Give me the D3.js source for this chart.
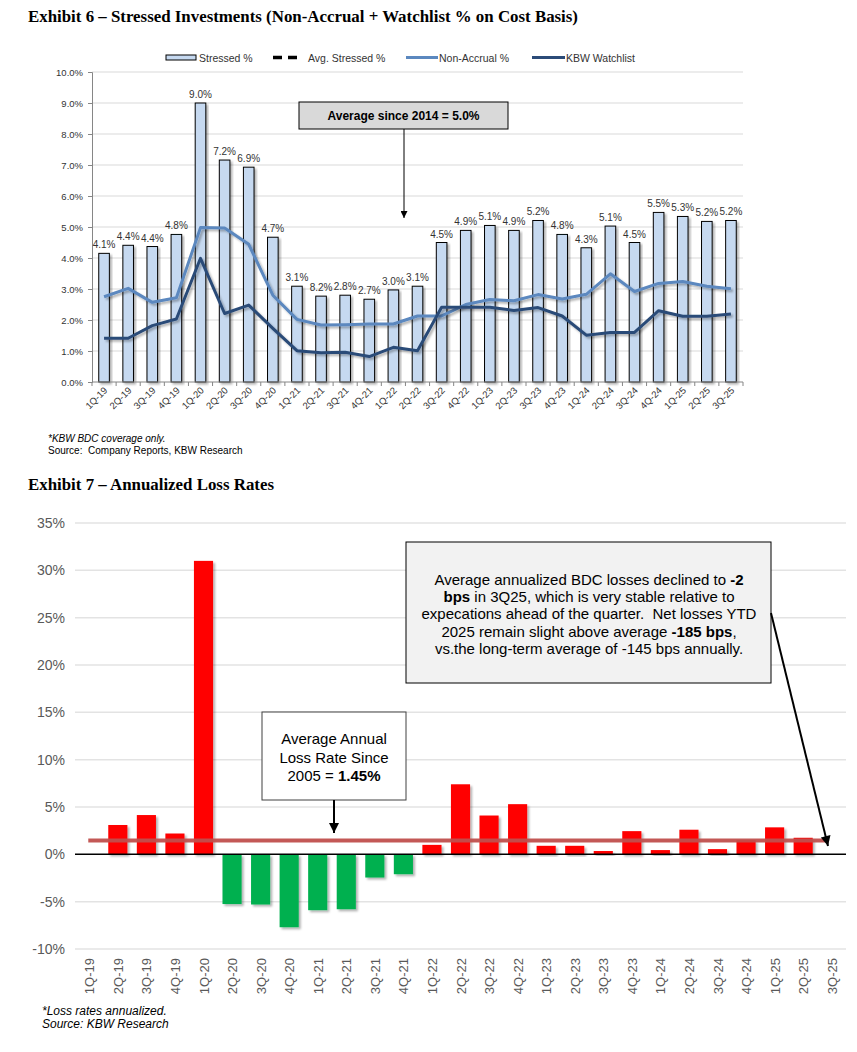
<!DOCTYPE html>
<html><head><meta charset="utf-8">
<script src="https://cdn.jsdelivr.net/npm/d3@7"></script>
<style>
body{margin:0;background:#fff;}
svg{display:block;font-family:"Liberation Sans",Arial,sans-serif;}
</style></head>
<body>
<svg id="c" width="857" height="1052"></svg>
<script>
// ---------- DATA: Exhibit 6 ----------
const quarters = ["1Q-19","2Q-19","3Q-19","4Q-19","1Q-20","2Q-20","3Q-20","4Q-20","1Q-21","2Q-21","3Q-21","4Q-21","1Q-22","2Q-22","3Q-22","4Q-22","1Q-23","2Q-23","3Q-23","4Q-23","1Q-24","2Q-24","3Q-24","4Q-24","1Q-25","2Q-25","3Q-25"];
const stressed = [4.15,4.41,4.37,4.76,9.0,7.16,6.93,4.67,3.09,2.77,2.80,2.67,2.97,3.09,4.50,4.89,5.05,4.89,5.21,4.76,4.33,5.03,4.50,5.47,5.34,5.18,5.21];
const stressedLabels = ["4.1%","4.4%","4.4%","4.8%","9.0%","7.2%","6.9%","4.7%","3.1%","8.2%","2.8%","2.7%","3.0%","3.1%","4.5%","4.9%","5.1%","4.9%","5.2%","4.8%","4.3%","5.1%","4.5%","5.5%","5.3%","5.2%","5.2%"];
const nonAccrual = [2.75,3.02,2.57,2.72,4.98,4.97,4.44,2.80,2.02,1.84,1.85,1.87,1.87,2.13,2.13,2.50,2.66,2.62,2.82,2.68,2.83,3.49,2.92,3.18,3.24,3.09,3.01];
const watchlist = [1.41,1.41,1.82,2.03,3.99,2.21,2.48,1.73,1.01,0.94,0.96,0.82,1.12,1.01,2.41,2.41,2.41,2.31,2.40,2.13,1.51,1.60,1.60,2.30,2.12,2.12,2.19];
const avgStressed = 5.0;
const topTicks = [0,1,2,3,4,5,6,7,8,9,10];

// ---------- DATA: Exhibit 7 ----------
const lossQuarters = quarters;
const lossRates = [0,3.1,4.15,2.2,31.0,-5.25,-5.3,-7.7,-5.9,-5.8,-2.45,-2.1,1.0,7.4,4.1,5.3,0.9,0.9,0.35,2.45,0.45,2.6,0.55,1.5,2.85,1.75,0];
const avgLoss = 1.45;
const lossTicks = [-10,-5,0,5,10,15,20,25,30,35];

const svg = d3.select("#c");
const defs = svg.append("defs");
const sh = defs.append("filter").attr("id","sh").attr("x","-30%").attr("y","-30%").attr("width","160%").attr("height","160%");
sh.append("feDropShadow").attr("dx",2).attr("dy",2).attr("stdDeviation",1.2).attr("flood-color","#000").attr("flood-opacity",0.3);
function marker(id,w,h){
  defs.append("marker").attr("id",id).attr("viewBox","0 0 10 10").attr("refX",10).attr("refY",5)
    .attr("markerWidth",w).attr("markerHeight",h).attr("markerUnits","userSpaceOnUse").attr("orient","auto")
    .append("path").attr("d","M0,0L10,5L0,10Z").attr("fill","#000");
}
marker("ar1",8,7);
marker("ar2",11,10);

// ================= EXHIBIT 6 =================
svg.append("text").attr("x",28).attr("y",22)
  .attr("font-family","'Liberation Serif','Times New Roman',serif").attr("font-weight","bold").attr("font-size",17)
  .attr("textLength",550).attr("lengthAdjust","spacingAndGlyphs")
  .text("Exhibit 6 \u2013 Stressed Investments (Non-Accrual + Watchlist % on Cost Basis)");

const x1 = d3.scaleBand().domain(quarters).range([92,743]).paddingInner(0.56).paddingOuter(0.28);
const y1 = d3.scaleLinear().domain([0,10]).range([382,72]);
const g1 = svg.append("g");

// gridlines
g1.append("g").selectAll("line").data(topTicks.filter(d=>d>0)).join("line")
  .attr("x1",92).attr("x2",743).attr("y1",d=>y1(d)).attr("y2",d=>y1(d))
  .attr("stroke","#d9d9d9").attr("stroke-width",1);

// y axis
const ya1 = g1.append("g").attr("transform","translate(92,0)")
  .call(d3.axisLeft(y1).tickValues(topTicks).tickFormat(d=>d.toFixed(1)+"%").tickSize(4).tickPadding(5));
ya1.select(".domain").attr("stroke","#868686");
ya1.selectAll(".tick line").attr("stroke","#868686");
ya1.selectAll("text").attr("font-size",9.5).attr("fill","#333").attr("font-family","'Liberation Sans',Arial,sans-serif");

// bars
g1.append("g").selectAll("rect").data(stressed).join("rect")
  .attr("x",(d,i)=>x1(quarters[i])).attr("width",x1.bandwidth())
  .attr("y",d=>y1(d)).attr("height",d=>y1(0)-y1(d))
  .attr("fill","#c6d9f0").attr("stroke","#000").attr("stroke-width",1).attr("filter","url(#sh)");

// x axis
const xa1 = g1.append("g").attr("transform","translate(0,382)");
xa1.append("line").attr("x1",92).attr("x2",743).attr("stroke","#868686");
const step1 = x1.step();
xa1.selectAll("line.t").data(quarters.concat(["_end"])).join("line").attr("class","t")
  .attr("x1",(d,i)=>92+i*step1).attr("x2",(d,i)=>92+i*step1).attr("y1",0).attr("y2",4).attr("stroke","#868686");
xa1.selectAll("text").data(quarters).join("text")
  .attr("transform",d=>`translate(${x1(d)+x1.bandwidth()/2+4},${9}) rotate(-45)`)
  .attr("text-anchor","end").attr("font-size",9.5).attr("fill","#333").text(d=>d);

// lines
const cx1 = d=>x1(d)+x1.bandwidth()/2;
const line1 = d3.line().x((d,i)=>cx1(quarters[i])).y(d=>y1(d));
g1.append("path").datum(nonAccrual).attr("d",line1).attr("fill","none").attr("stroke","#5b88bf").attr("stroke-width",3).attr("stroke-linejoin","round").attr("filter","url(#sh)");
g1.append("path").datum(watchlist).attr("d",line1).attr("fill","none").attr("stroke","#2b4b78").attr("stroke-width",3).attr("stroke-linejoin","round").attr("filter","url(#sh)");

// data labels
g1.append("g").selectAll("text").data(stressed).join("text")
  .attr("x",(d,i)=>cx1(quarters[i])).attr("y",d=>y1(d)-5)
  .attr("text-anchor","middle").attr("font-size",10).attr("fill","#333")
  .text((d,i)=>stressedLabels[i]);

// avg dashed line
g1.append("line").attr("x1",cx1(quarters[0])).attr("x2",cx1(quarters[quarters.length-1])+4)
  .attr("y1",y1(avgStressed)).attr("y2",y1(avgStressed))
  .attr("stroke","#000").attr("stroke-width",4).attr("stroke-dasharray","11,7").attr("filter","url(#sh)");

// annotation box
g1.append("rect").attr("x",299).attr("y",102).attr("width",209).attr("height",27)
  .attr("fill","#d9d9d9").attr("stroke","#000").attr("stroke-width",1);
g1.append("text").attr("x",403.5).attr("y",120).attr("text-anchor","middle")
  .attr("font-size",12).attr("font-weight","bold").attr("fill","#000").text("Average since 2014 = 5.0%");
g1.append("line").attr("x1",404).attr("x2",404).attr("y1",129).attr("y2",218)
  .attr("stroke","#000").attr("stroke-width",1).attr("marker-end","url(#ar1)");

// legend
const lg = g1.append("g").attr("font-size",10.5).attr("fill","#333");
lg.append("rect").attr("x",166).attr("y",55).attr("width",30).attr("height",5).attr("fill","#c6d9f0").attr("stroke","#000").attr("stroke-width",1);
lg.append("text").attr("x",199).attr("y",61.5).text("Stressed %");
lg.append("line").attr("x1",273).attr("x2",302).attr("y1",57.5).attr("y2",57.5).attr("stroke","#000").attr("stroke-width",3.5).attr("stroke-dasharray","9,6");
lg.append("text").attr("x",308).attr("y",61.5).text("Avg. Stressed %");
lg.append("line").attr("x1",406).attr("x2",438).attr("y1",57.5).attr("y2",57.5).attr("stroke","#5b88bf").attr("stroke-width",3);
lg.append("text").attr("x",439).attr("y",61.5).text("Non-Accrual %");
lg.append("line").attr("x1",532).attr("x2",565).attr("y1",57.5).attr("y2",57.5).attr("stroke","#2b4b78").attr("stroke-width",3);
lg.append("text").attr("x",566).attr("y",61.5).text("KBW Watchlist");

// footnotes
svg.append("text").attr("x",48).attr("y",442).attr("font-size",10).attr("font-style","italic")
  .attr("font-family","'Liberation Sans Narrow','Arial Narrow',sans-serif").attr("fill","#000").text("*KBW BDC coverage only.");
svg.append("text").attr("x",48).attr("y",454).attr("font-size",10)
  .attr("font-family","'Liberation Sans Narrow','Arial Narrow',sans-serif").attr("fill","#000").attr("xml:space","preserve").text("Source:  Company Reports, KBW Research");

// ================= EXHIBIT 7 =================
svg.append("text").attr("x",28).attr("y",490)
  .attr("font-family","'Liberation Serif','Times New Roman',serif").attr("font-weight","bold").attr("font-size",17)
  .attr("textLength",246).attr("lengthAdjust","spacingAndGlyphs")
  .text("Exhibit 7 \u2013 Annualized Loss Rates");

const x2 = d3.scaleBand().domain(lossQuarters).range([75,846]).paddingInner(0.33).paddingOuter(0.165);
const y2 = d3.scaleLinear().domain([-10,35]).range([949,523]);
const g2 = svg.append("g");

g2.append("g").selectAll("line").data(lossTicks.filter(d=>d!==0)).join("line")
  .attr("x1",75).attr("x2",846).attr("y1",d=>y2(d)).attr("y2",d=>y2(d))
  .attr("stroke","#e3e3e3").attr("stroke-width",1.5);

const ya2 = g2.append("g").attr("transform","translate(75,0)")
  .call(d3.axisLeft(y2).tickValues(lossTicks).tickFormat(d=>d+"%").tickSize(0).tickPadding(10));
ya2.select(".domain").remove();
ya2.selectAll("text").attr("font-size",14).attr("fill","#595959").attr("font-family","'Liberation Sans',Arial,sans-serif");

g2.append("g").selectAll("rect").data(lossRates).join("rect")
  .attr("x",(d,i)=>x2(lossQuarters[i])).attr("width",x2.bandwidth())
  .attr("y",d=>y2(Math.max(0,d))).attr("height",d=>Math.abs(y2(d)-y2(0)))
  .attr("fill",d=>d>=0?"#ff0000":"#00b050").attr("filter","url(#sh)");

// zero line
g2.append("line").attr("x1",75).attr("x2",846).attr("y1",y2(0)).attr("y2",y2(0)).attr("stroke","#000").attr("stroke-width",1.5);

// x labels
g2.append("g").selectAll("text").data(lossQuarters).join("text")
  .attr("transform",d=>`translate(${x2(d)+x2.bandwidth()/2+5},958) rotate(-90)`)
  .attr("text-anchor","end").attr("font-size",13).attr("fill","#595959").text(d=>d);

// avg line
const cx2 = d=>x2(d)+x2.bandwidth()/2;
g2.append("line").attr("x1",cx2(lossQuarters[0])-1).attr("x2",cx2(lossQuarters[lossQuarters.length-1])-3)
  .attr("y1",y2(avgLoss)).attr("y2",y2(avgLoss)).attr("stroke","#c0504d").attr("stroke-width",4).attr("opacity",0.95);

// annotation box 1
g2.append("rect").attr("x",262).attr("y",712).attr("width",144).attr("height",88)
  .attr("fill","#fff").attr("stroke","#404040").attr("stroke-width",1);
const t1 = g2.append("text").attr("text-anchor","middle").attr("font-size",15).attr("fill","#000");
t1.append("tspan").attr("x",334).attr("y",744).text("Average Annual");
t1.append("tspan").attr("x",334).attr("y",762.5).text("Loss Rate Since");
const t1c = t1.append("tspan").attr("x",334).attr("y",781);
t1c.append("tspan").text("2005 = ");
t1c.append("tspan").attr("font-weight","bold").text("1.45%");
g2.append("line").attr("x1",334).attr("x2",334).attr("y1",800).attr("y2",833)
  .attr("stroke","#000").attr("stroke-width",2).attr("marker-end","url(#ar2)");

// annotation box 2
g2.append("rect").attr("x",406).attr("y",542).attr("width",365).attr("height",141)
  .attr("fill","#f2f2f2").attr("stroke","#000").attr("stroke-width",1);
const lines2 = [
  [["Average annualized BDC losses declined to ",false],["-2",true]],
  [["bps",true],[" in 3Q25, which is very stable relative to",false]],
  [["expecations ahead of the quarter.  Net losses YTD",false]],
  [["2025 remain slight above average ",false],["-185 bps",true],[",",false]],
  [["vs.the long-term average of -145 bps annually.",false]]
];
const t2 = g2.append("text").attr("text-anchor","middle").attr("font-size",15).attr("fill","#000").attr("xml:space","preserve");
lines2.forEach((ln,i)=>{
  const ts = t2.append("tspan").attr("x",589).attr("y",585+i*17.2);
  ln.forEach(([s,b])=>ts.append("tspan").attr("font-weight",b?"bold":"normal").text(s));
});
g2.append("line").attr("x1",771).attr("y1",613).attr("x2",828).attr("y2",846)
  .attr("stroke","#000").attr("stroke-width",2).attr("marker-end","url(#ar2)");

// footnotes
svg.append("text").attr("x",42).attr("y",1015).attr("font-size",12).attr("font-style","italic").attr("fill","#000").text("*Loss rates annualized.");
svg.append("text").attr("x",42).attr("y",1028).attr("font-size",12).attr("font-style","italic").attr("fill","#000").text("Source: KBW Research");
</script>
</body></html>
